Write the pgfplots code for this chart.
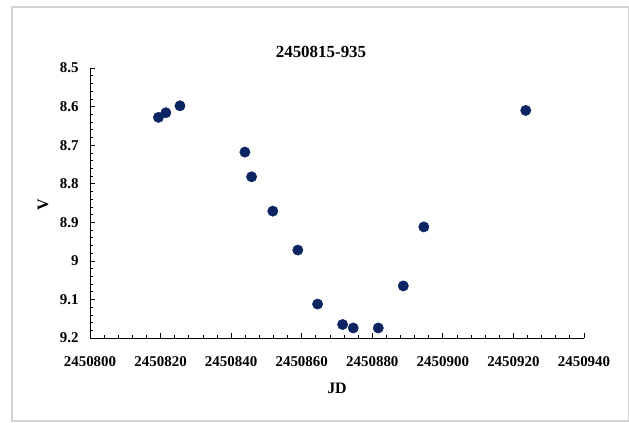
\documentclass[border=0pt]{standalone}
\usepackage{pgfplots}
\pgfplotsset{compat=1.18}
\usepackage{fontspec}
\setmainfont{Liberation Serif}
\definecolor{dotc}{RGB}{12,36,98}
\begin{document}
\begin{tikzpicture}
\useasboundingbox (0bp,0bp) rectangle (629bp,423bp);
\draw[black!18, line width=1.2bp] (12bp,2bp) rectangle (628.5bp,416bp);
\begin{axis}[
  at={(90bp,85bp)}, anchor=south west,
  scale only axis, width=494bp, height=270bp,
  xmin=2450800, xmax=2450940, ymin=8.5, ymax=9.2, y dir=reverse,
  axis x line*=bottom, axis y line*=left,
  axis line style={black, line width=0.8bp, -},
  xtick={2450800,2450820,2450840,2450860,2450880,2450900,2450920,2450940},
  ytick={8.5,8.6,8.7,8.8,8.9,9.0,9.1,9.2},
  minor tick num=4,
  tick align=inside,
  major tick length=5bp, minor tick length=3.5bp,
  tick style={black, line width=0.7bp},
  tick label style={font=\fontsize{15}{18}\selectfont\bfseries},
  /pgf/number format/assume math mode=true,
  scaled x ticks=false,
  xticklabel={\pgfmathprintnumber[fixed,precision=0,set thousands separator={}]{\tick}},
  xticklabel style={yshift=-15bp},
  yticklabel style={xshift=-8bp},
]
\addplot[only marks, mark=*, mark size=5.2bp, color=dotc] coordinates {
(2450819.4,8.628)
(2450821.5,8.616)
(2450825.5,8.598)
(2450843.9,8.718)
(2450845.8,8.782)
(2450851.8,8.871)
(2450858.9,8.972)
(2450864.5,9.112)
(2450871.6,9.165)
(2450874.6,9.174)
(2450881.7,9.174)
(2450888.8,9.065)
(2450894.6,8.912)
(2450923.5,8.610)
};
\end{axis}
\node[font=\fontsize{17}{20}\selectfont\bfseries] at (321bp,371bp) {2450815-935};
\node[font=\fontsize{16}{19}\selectfont\bfseries] at (337bp,35bp) {JD};
\node[font=\fontsize{16}{19}\selectfont\bfseries, rotate=90] at (43bp,218bp) {V};
\end{tikzpicture}
\end{document}
